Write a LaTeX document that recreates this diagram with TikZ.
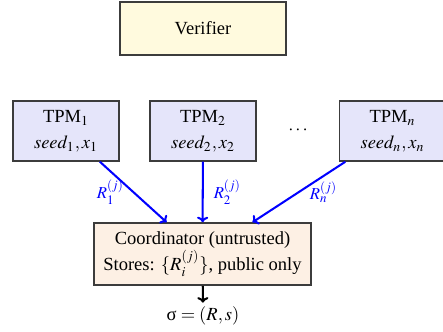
\documentclass[tikz,border=0pt]{standalone}
\usepackage{mathptmx}
\usepackage{fontspec}
\setmainfont{Liberation Serif}
\usetikzlibrary{arrows.meta}
\definecolor{verfill}{RGB}{255,250,222}
\definecolor{tpmfill}{RGB}{229,229,250}
\definecolor{coordfill}{RGB}{253,240,228}
\definecolor{bordergray}{RGB}{60,60,60}
\begin{document}
\begin{tikzpicture}[x=0.54pt,y=-0.54pt,
  basebox/.style={draw=bordergray, line width=0.8pt, align=center, inner sep=0pt,
    font=\fontsize{10}{14}\selectfont},
  verbox/.style={basebox, fill=verfill, minimum width=89.6pt, minimum height=28.6pt},
  tpmbox/.style={basebox, fill=tpmfill, minimum width=57.2pt, minimum height=32.4pt},
  coordbox/.style={basebox, fill=coordfill, minimum width=117.2pt, minimum height=33.5pt},
  flow/.style={draw=blue, line width=1.1pt, -{To[length=3pt,width=6pt]}},
  outflow/.style={draw=black, line width=1.1pt, -{To[length=3pt,width=6pt]}},
  lab/.style={text=blue, font=\small, inner sep=1pt}]
\useasboundingbox (0,0) rectangle (443,331);

\node[verbox] (ver) at (203,28.5) {Verifier};

\node[tpmbox] (t1) at (66,131) {TPM$_1$\\ $seed_1, x_1$};
\node[tpmbox] (t2) at (203,131) {TPM$_2$\\ $seed_2, x_2$};
\node[tpmbox] (tn) at (392.5,131) {TPM$_n$\\ $seed_n, x_n$};
\node (dots) at (298,130) {$\cdots$};

\node[coordbox] (co) at (202.5,254) {Coordinator (untrusted)\\ Stores: $\{R_i^{(j)}\}$, public only};

\coordinate (c1) at ([xshift=-19.4pt]co.north);
\coordinate (cn) at ([xshift=27pt]co.north);

\draw[flow] (t1) -- (c1) node[lab, pos=0.5, anchor=east, xshift=-3.5pt] (l1) {$R_1^{(j)}$};
\draw[flow] (t2) -- (co) node[lab, pos=0.5, anchor=west, xshift=4.4pt] (l2) {$R_2^{(j)}$};
\draw[flow] (tn) -- (cn) node[lab, pos=0.5, anchor=west, xshift=4.4pt] (ln) {$R_n^{(j)}$};

\node[inner sep=2pt, font=\fontsize{10}{12}\selectfont] (sig) at (203,316) {σ${} = (R, s)$};
\draw[outflow] (co) -- (sig);
\end{tikzpicture}
\end{document}
